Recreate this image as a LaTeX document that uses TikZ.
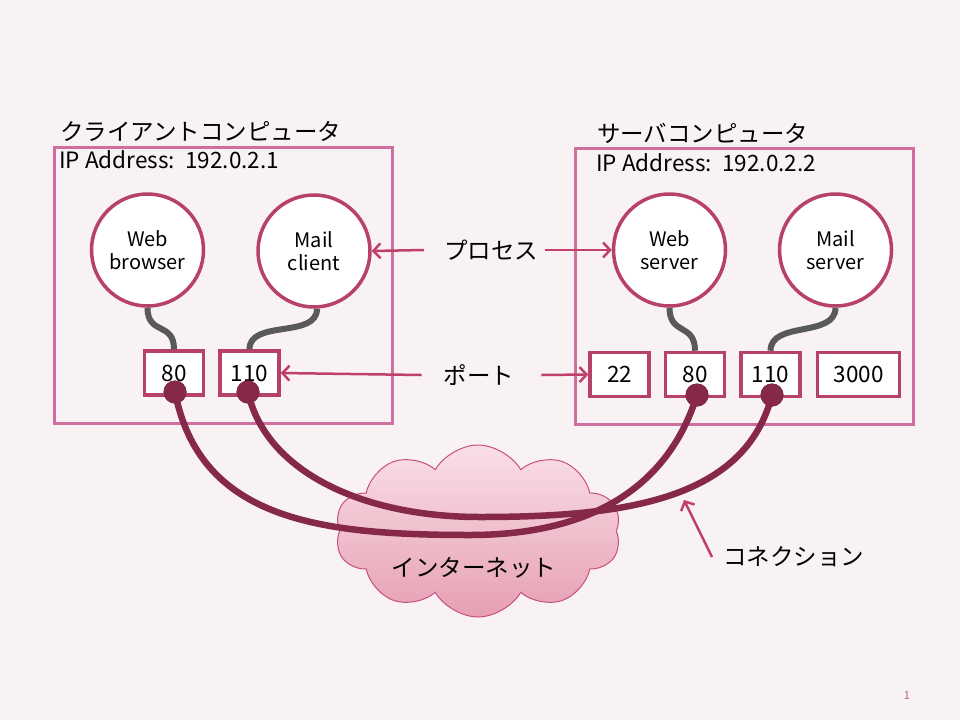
\documentclass[tikz,border=0pt]{standalone}
\usepackage{fontspec}
\setmainfont{Noto Sans CJK JP}
\usetikzlibrary{shapes.symbols,arrows.meta}

\definecolor{bgpink}{HTML}{F8F2F5}
\definecolor{boxpink}{HTML}{D06EA0}
\definecolor{rimred}{HTML}{B8406C}
\definecolor{connred}{HTML}{862848}
\definecolor{linkgray}{HTML}{595959}
\definecolor{arrowred}{HTML}{C0406C}
\definecolor{cloudtop}{HTML}{FADFE7}
\definecolor{cloudbot}{HTML}{E6A0B3}
\definecolor{cloudrim}{HTML}{C85080}

\begin{document}
\begin{tikzpicture}[x=1pt, y=-1pt,
  hostbox/.style={draw=boxpink, line width=3pt, minimum width=338pt, minimum height=276pt},
  title/.style={anchor=west, inner sep=0pt, font=\fontsize{23.5}{28}\selectfont},
  ipaddr/.style={anchor=west, inner sep=0pt, font=\fontsize{22.5}{26}\selectfont},
  proc/.style={circle, draw=rimred, line width=3.5pt, fill=white, minimum size=112pt,
    inner sep=0pt, align=center, font=\fontsize{20}{23}\selectfont},
  port/.style={draw=rimred, line width=3.5pt, fill=white, minimum width=59pt,
    minimum height=44pt, inner sep=0pt, font=\fontsize{22.5}{26}\selectfont},
  link/.style={draw=linkgray, line width=6pt},
  conn/.style={draw=connred, line width=6.5pt},
  dot/.style={circle, fill=connred, minimum size=23pt, inner sep=0pt},
  callout/.style={draw=arrowred, line width=2.5pt, -{Straight Barb[length=7pt,width=15pt]}},
  note/.style={inner sep=0pt, font=\fontsize{23.5}{28}\selectfont}]

  % Background
  \fill[bgpink] (0,0) rectangle (960,720);
  \useasboundingbox (0,0) rectangle (960,720);

  % Client computer
  \node[hostbox] (cbox) at (223,285) {};
  \node[title] (ctitle) at (60,131) {クライアントコンピュータ};
  \node[ipaddr] (cip) at (59,160) {IP Address:\, 192.0.2.1};
  \node[proc] (cweb) at (147.5,250) {Web\\browser};
  \node[proc] (cmail) at (314,251) {Mail\\client};
  \node[port] (cp80) at (174,373) {80};
  \node[port] (cp110) at (249.5,373) {110};
  \draw[link] (cweb.south) .. controls +(0,28) and +(0,-28) .. (cp80.north);
  \draw[link] ([xshift=3pt]cmail.south) .. controls +(0,30) and +(0,-30) .. (cp110.north);

  % Server computer
  \node[hostbox] (sbox) at (744.5,286) {};
  \node[title] (stitle) at (597,133) {サーバコンピュータ};
  \node[ipaddr] (sip) at (596,163) {IP Address:\, 192.0.2.2};
  \node[proc] (sweb) at (669.5,250) {Web\\server};
  \node[proc] (smail) at (835.5,250) {Mail\\server};
  \node[port] (sp22) at (619.5,374.5) {22};
  \node[port] (sp80) at (695,374.5) {80};
  \node[port] (sp110) at (770.5,374.5) {110};
  \node[port, minimum width=82pt] (sp3000) at (858.5,374.5) {3000};
  \draw[link] (sweb.south) .. controls +(0,28) and +(0,-28) .. (sp80.north);
  \draw[link] (smail.south) .. controls +(0,30) and +(0,-30) .. (sp110.north);

  % Labels with arrows
  \node[note] (lproc) at (491,250) {プロセス};
  \draw[callout] ([xshift=-20pt]lproc.west) -- (cmail.east);
  \draw[callout] ([xshift=7pt]lproc.east) -- (sweb.west);
  \node[note] (lport) at (479,375) {ポート};
  \draw[callout] ([xshift=-22pt]lport.west) -- (cp110.east);
  \draw[callout] ([xshift=27pt]lport.east) -- (sp22.west);

  % Internet
  \node[cloud, cloud puffs=10, cloud puff arc=120, aspect=1.7, draw=cloudrim, line width=1pt,
    top color=cloudtop, bottom color=cloudbot, minimum width=286pt, minimum height=172pt,
    inner sep=0pt] (net) at (478,531) {};
  \node[note] (lnet) at (474,568) {インターネット};

  % Connections
  \node[dot] (cd80) at (175,392) {};
  \node[dot] (cd110) at (248,392) {};
  \node[dot] (sd80) at (697,395) {};
  \node[dot] (sd110) at (772,395) {};
  \draw[conn] (cd80.center) .. controls (200,520) and (320,535) .. (470,535)
    .. controls (590,535) and (668,488) .. (sd80.center);
  \draw[conn] (cd110.center) .. controls (265,470) and (360,517) .. (480,517)
    .. controls (625,517) and (745,500) .. (sd110.center);
  \node[dot] at (cd80) {};
  \node[dot] at (cd110) {};
  \node[dot] at (sd80) {};
  \node[dot] at (sd110) {};

  \node[note, anchor=west] (lconn) at (723,557) {コネクション};
  \coordinate (ctip) at (684,500);
  \draw[callout] ([xshift=-11pt]lconn.west) -- (ctip);

  % Page number
  \node[text=boxpink!80!violet, font=\fontsize{11}{13}\selectfont] (pgno) at (907,696) {1};
\end{tikzpicture}
\end{document}
